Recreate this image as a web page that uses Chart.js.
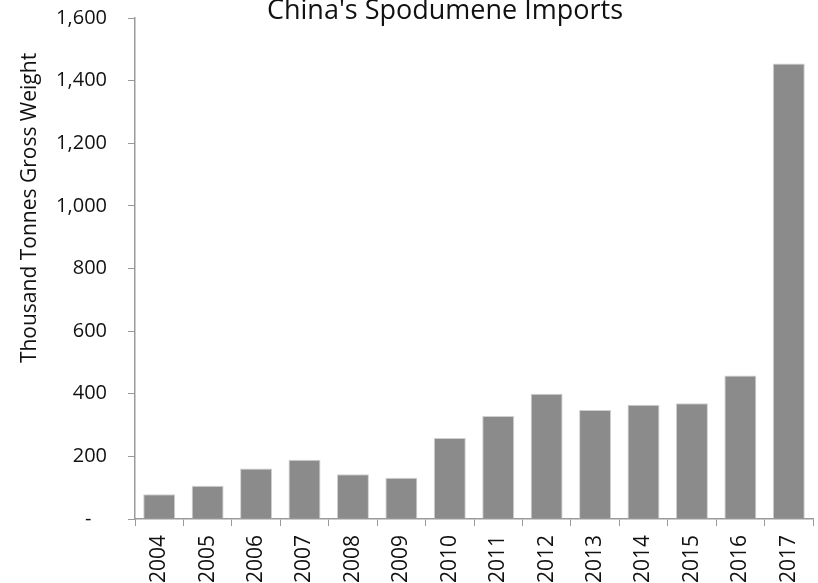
<!DOCTYPE html>
<html>
<head>
<meta charset="utf-8">
<script src="https://cdn.jsdelivr.net/npm/chart.js@4"></script>
<style>
  html, body { margin: 0; padding: 0; background: #fff; }
  #wrap { width: 818px; height: 583px; }
</style>
</head>
<body>
<div id="wrap"><canvas id="chart" width="818" height="583"></canvas></div>
<script>
const years = ["2004","2005","2006","2007","2008","2009","2010","2011","2012","2013","2014","2015","2016","2017"];
const imports = [79, 106, 161, 189, 143, 132, 259, 329, 400, 348, 365, 370, 458, 1455];
const yTicks = [0, 200, 400, 600, 800, 1000, 1200, 1400, 1600];

const chartTitle = "China's Spodumene Imports";
const yTitle = "Thousand Tonnes Gross Weight";

const FONT = "'Open Sans', 'Noto Sans', sans-serif";
const axisGrey = "#9a9a9a";

// title and y axis caption sit where the original put them, not where chart.js would
const textPlugin = {
  id: "texts",
  afterDraw(c) {
    const ctx = c.ctx;
    ctx.save();
    ctx.fillStyle = "#111";
    ctx.font = "27px " + FONT;
    ctx.textAlign = "center";
    ctx.textBaseline = "alphabetic";
    ctx.fillText(chartTitle, 445, 19);

    ctx.font = "21px " + FONT;
    ctx.translate(30, 208);
    ctx.rotate(-Math.PI / 2);
    ctx.textBaseline = "middle";
    ctx.fillText(yTitle, 0, 0);
    ctx.restore();
  }
};

function fmt(v) {
  if (v === 0) return "-   ";
  return v.toLocaleString("en-US");
}

let chart = new Chart(document.getElementById("chart"), {
  type: "bar",
  data: {
    labels: years,
    datasets: [{
      data: imports,
      backgroundColor: "#8b8b8b",
      borderColor: "#cfcfcf",
      borderWidth: 1,
      barPercentage: 0.66,
      categoryPercentage: 1
    }]
  },
  options: {
    responsive: false,
    animation: false,
    layout: { padding: { top: 18, right: 5, left: 0, bottom: 0 } },
    plugins: { legend: { display: false }, tooltip: { enabled: false }, title: { display: false } },
    scales: {
      x: {
        offset: true,
        grid: { display: true, drawOnChartArea: false, drawTicks: true, tickLength: 7, color: axisGrey, offset: true },
        border: { display: true, color: axisGrey, width: 1.5 },
        ticks: { minRotation: 90, maxRotation: 90, padding: 9, color: "#111", font: { family: FONT, size: 21 }, autoSkip: false },
        afterFit(s) { s.height = 64; s.paddingLeft = 0; s.paddingRight = 0; }
      },
      y: {
        min: 0,
        max: 1600,
        afterBuildTicks(s) { s.ticks = yTicks.map(v => ({ value: v })); },
        grid: { display: true, drawOnChartArea: false, drawTicks: true, tickLength: 7, color: axisGrey },
        border: { display: true, color: axisGrey, width: 1.5 },
        ticks: { padding: 21, color: "#111", font: { family: FONT, size: 20 }, callback: v => fmt(v) },
        afterFit(s) { s.width = 135; s.paddingTop = 0; s.paddingBottom = 0; }
      }
    }
  },
  plugins: [textPlugin]
});
</script>
</body>
</html>
